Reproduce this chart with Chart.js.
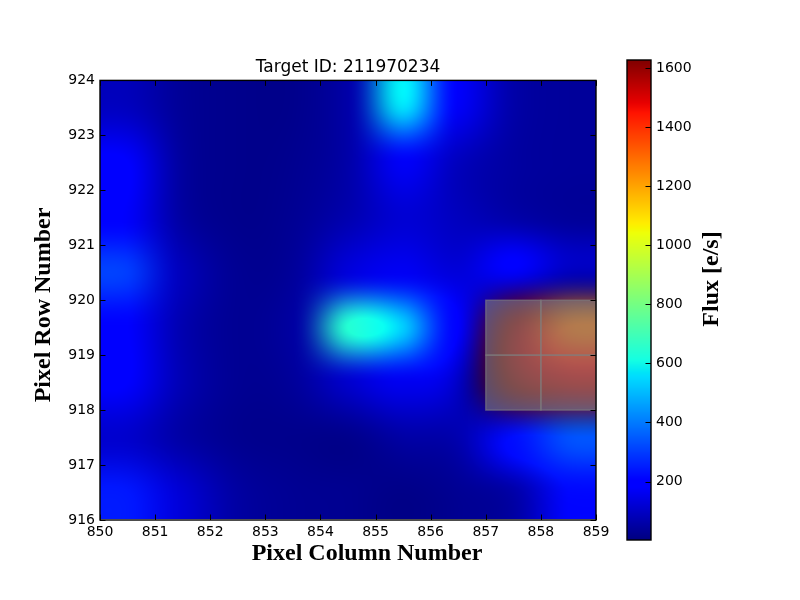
<!DOCTYPE html>
<html>
<head>
<meta charset="utf-8">
<title>Target ID: 211970234</title>
<script src="https://cdn.jsdelivr.net/npm/chart.js@4/dist/chart.umd.min.js"></script>
<style>
  html, body { margin: 0; padding: 0; background: #fff; }
  canvas { position: absolute; left: 0; top: 0; }
</style>
</head>
<body>
<canvas id="mapa" width="800" height="600"></canvas>
<canvas id="barra" width="800" height="600"></canvas>
<script>
const titulo = "Target ID: 211970234";
const rotuloX = "Pixel Column Number";
const rotuloY = "Pixel Row Number";
const rotuloBarra = "Flux [e/s]";

const colunas = [850, 851, 852, 853, 854, 855, 856, 857, 858];
const linhas = [916, 917, 918, 919, 920, 921, 922, 923];

// flux per pixel, one list per row, from row 916 upwards
const linha916 = [240, 120, 50, 30, 25, 15, 30, 60, 215];
const linha917 = [110, 55, 25, 20, 20, 55, 70, 225, 330];
const linha918 = [190, 75, 30, 40, 110, 160, 100, 1625, 1530];
const linha919 = [190, 70, 30, 50, 640, 530, 190, 1605, 1300];
const linha920 = [300, 85, 30, 40, 130, 165, 130, 170, 90];
const linha921 = [175, 50, 20, 30, 70, 120, 90, 60, 40];
const linha922 = [190, 45, 20, 25, 60, 170, 90, 50, 40];
const linha923 = [90, 35, 20, 20, 60, 560, 170, 60, 40];
const fluxo = [linha916, linha917, linha918, linha919, linha920, linha921, linha922, linha923];

const fluxoMin = 2;
const fluxoMax = 1627;
const ticksX = [850, 851, 852, 853, 854, 855, 856, 857, 858, 859];
const ticksY = [916, 917, 918, 919, 920, 921, 922, 923, 924];
const ticksBarra = [200, 400, 600, 800, 1000, 1200, 1400, 1600];

// pixels of the optimal aperture (column, row)
const aberturaColunas = [857, 858, 857, 858];
const aberturaLinhas = [918, 918, 919, 919];

function trecho(v, pts) {
  for (let i = 1; i < pts.length; i++) {
    if (v <= pts[i][0]) {
      const t = (v - pts[i - 1][0]) / (pts[i][0] - pts[i - 1][0]);
      return pts[i - 1][1] + t * (pts[i][1] - pts[i - 1][1]);
    }
  }
  return pts[pts.length - 1][1];
}

function jet(valor) {
  const v = Math.min(1, Math.max(0, (valor - fluxoMin) / (fluxoMax - fluxoMin)));
  return [
    255 * trecho(v, [[0, 0], [0.35, 0], [0.66, 1], [0.89, 1], [1, 0.5]]),
    255 * trecho(v, [[0, 0], [0.125, 0], [0.375, 1], [0.64, 1], [0.91, 0], [1, 0]]),
    255 * trecho(v, [[0, 0.5], [0.11, 1], [0.34, 1], [0.65, 0], [1, 0]]),
  ];
}

function kernel(t) {
  const t2 = t * t;
  const t3 = t2 * t;
  return [
    -0.5 * t3 + t2 - 0.5 * t,
    1.5 * t3 - 2.5 * t2 + 1,
    -1.5 * t3 + 2 * t2 + 0.5 * t,
    0.5 * t3 - 0.5 * t2,
  ];
}

// smoothing is done on a power of each colour channel,
// it gives the narrow peaks and the darker seams seen around the aperture
const potencia = 1.35;
const cores = fluxo.map((linha) => linha.map((f) => jet(f).map((c) => Math.pow(c, 1 / potencia))));

function corEm(col, lin) {
  const u = col - colunas[0] - 0.5;
  const v = lin - linhas[0] - 0.5;
  const iu = Math.floor(u);
  const iv = Math.floor(v);
  const pu = kernel(u - iu);
  const pv = kernel(v - iv);
  const saida = [0, 0, 0];
  for (let j = 0; j < 4; j++) {
    const l = Math.min(linhas.length - 1, Math.max(0, iv - 1 + j));
    for (let i = 0; i < 4; i++) {
      const c = Math.min(colunas.length - 1, Math.max(0, iu - 1 + i));
      const p = pu[i] * pv[j];
      saida[0] += p * cores[l][c][0];
      saida[1] += p * cores[l][c][1];
      saida[2] += p * cores[l][c][2];
    }
  }
  return saida.map((s) => (s > 0 ? Math.pow(s, potencia) : 0));
}

function marcasDentro(ctx, area, escalaX, escalaY, valoresX, valoresY) {
  const tam = 5.5;
  ctx.save();
  ctx.strokeStyle = "#000";
  ctx.lineWidth = 1;
  ctx.beginPath();
  valoresX.forEach((v) => {
    const x = Math.round(escalaX.getPixelForValue(v)) + 0.5;
    ctx.moveTo(x, area.bottom);
    ctx.lineTo(x, area.bottom - tam);
    ctx.moveTo(x, area.top);
    ctx.lineTo(x, area.top + tam);
  });
  valoresY.forEach((v) => {
    const y = Math.round(escalaY.getPixelForValue(v)) + 0.5;
    ctx.moveTo(area.right, y);
    ctx.lineTo(area.right - tam, y);
    ctx.moveTo(area.left, y);
    ctx.lineTo(area.left + tam, y);
  });
  ctx.stroke();
  ctx.lineWidth = 1.4;
  ctx.strokeRect(area.left, area.top, area.right - area.left, area.bottom - area.top);
  ctx.restore();
}

function textoGirado(ctx, texto, x, y) {
  ctx.save();
  ctx.translate(x, y);
  ctx.rotate(-Math.PI / 2);
  ctx.fillText(texto, 0, 0);
  ctx.restore();
}

const fonteRotulo = "bold 24px 'Liberation Serif'";

const pluginMapa = {
  id: "pluginMapa",
  beforeDatasetsDraw(chart) {
    const { ctx, chartArea: area } = chart;
    const { x: escalaX, y: escalaY } = chart.scales;
    const larg = area.right - area.left;
    const alt = area.bottom - area.top;
    const img = ctx.createImageData(larg, alt);
    for (let py = 0; py < alt; py++) {
      const lin = escalaY.getValueForPixel(area.top + py + 0.5);
      for (let px = 0; px < larg; px++) {
        const col = escalaX.getValueForPixel(area.left + px + 0.5);
        const c = corEm(col, lin);
        const k = (py * larg + px) * 4;
        img.data[k] = c[0];
        img.data[k + 1] = c[1];
        img.data[k + 2] = c[2];
        img.data[k + 3] = 255;
      }
    }
    ctx.putImageData(img, area.left, area.top);

    ctx.save();
    ctx.fillStyle = "rgba(128,128,128,0.6)";
    ctx.strokeStyle = "rgba(128,128,128,0.6)";
    ctx.lineWidth = 1.4;
    aberturaColunas.forEach((c, i) => {
      const x0 = escalaX.getPixelForValue(c);
      const x1 = escalaX.getPixelForValue(c + 1);
      const y0 = escalaY.getPixelForValue(aberturaLinhas[i] + 1);
      const y1 = escalaY.getPixelForValue(aberturaLinhas[i]);
      ctx.fillRect(x0, y0, x1 - x0, y1 - y0);
      ctx.strokeRect(x0, y0, x1 - x0, y1 - y0);
    });
    ctx.restore();

    marcasDentro(ctx, area, escalaX, escalaY, ticksX, ticksY);
  },
  afterDraw(chart) {
    const { ctx } = chart;
    ctx.save();
    ctx.fillStyle = "#000";
    ctx.font = fonteRotulo;
    ctx.textAlign = "center";
    ctx.textBaseline = "middle";
    ctx.fillText(rotuloX, 367, 554);
    textoGirado(ctx, rotuloY, 44, 305);
    ctx.restore();
  },
};

const pluginBarra = {
  id: "pluginBarra",
  beforeDatasetsDraw(chart) {
    const { ctx, chartArea: area } = chart;
    const escala = chart.scales.y;
    for (let py = area.top; py < area.bottom; py++) {
      const c = jet(escala.getValueForPixel(py + 0.5));
      ctx.fillStyle = "rgb(" + c.map(Math.round).join(",") + ")";
      ctx.fillRect(area.left, py, area.right - area.left, 1);
    }
    const tam = 5.5;
    ctx.save();
    ctx.strokeStyle = "#000";
    ctx.lineWidth = 1;
    ctx.beginPath();
    ticksBarra.forEach((v) => {
      const y = Math.round(escala.getPixelForValue(v)) + 0.5;
      ctx.moveTo(area.right, y);
      ctx.lineTo(area.right - tam, y);
    });
    ctx.stroke();
    ctx.lineWidth = 1.4;
    ctx.strokeRect(area.left, area.top, area.right - area.left, area.bottom - area.top);
    ctx.fillStyle = "#000";
    ctx.font = fonteRotulo;
    ctx.textAlign = "center";
    ctx.textBaseline = "middle";
    textoGirado(ctx, rotuloBarra, 712, 279);
    ctx.restore();
  },
};

const pontos = [];
linhas.forEach((l, j) => {
  colunas.forEach((c, i) => {
    pontos.push({ x: c + 0.5, y: l + 0.5, fluxo: fluxo[j][i] });
  });
});

const fonteTick = { family: "'DejaVu Sans'", size: 14 };

new Chart(document.getElementById("mapa"), {
  type: "scatter",
  data: {
    datasets: [{ label: "Flux", data: pontos, pointRadius: 0, pointHoverRadius: 0 }],
  },
  options: {
    responsive: false,
    animation: false,
    events: [],
    layout: { padding: { left: 30, right: 204, top: 0, bottom: 35 } },
    scales: {
      x: {
        type: "linear",
        min: 850,
        max: 859,
        afterBuildTicks: (s) => { s.ticks = ticksX.map((v) => ({ value: v })); },
        afterFit: (s) => { s.height = 45; },
        grid: { display: false, drawTicks: false },
        border: { display: false },
        ticks: { font: fonteTick, color: "#000", padding: 4, autoSkip: false, maxRotation: 0, callback: (v) => String(v) },
      },
      y: {
        type: "linear",
        min: 916,
        max: 924,
        afterBuildTicks: (s) => { s.ticks = ticksY.map((v) => ({ value: v })); },
        afterFit: (s) => { s.width = 70; },
        grid: { display: false, drawTicks: false },
        border: { display: false },
        ticks: { font: fonteTick, color: "#000", padding: 5, autoSkip: false, callback: (v) => String(v) },
      },
    },
    plugins: {
      legend: { display: false },
      tooltip: { enabled: false },
      title: {
        display: true,
        text: titulo,
        fullSize: false,
        color: "#000",
        font: { family: "'DejaVu Sans'", size: 17, weight: "normal" },
        padding: { top: 57, bottom: 3 },
      },
    },
  },
  plugins: [pluginMapa],
});

new Chart(document.getElementById("barra"), {
  type: "scatter",
  data: { datasets: [{ label: "Flux", data: [], pointRadius: 0 }] },
  options: {
    responsive: false,
    animation: false,
    events: [],
    layout: { padding: { left: 627, right: 99, top: 60, bottom: 60 } },
    scales: {
      x: { display: false, min: 0, max: 1 },
      y: {
        type: "linear",
        position: "right",
        min: fluxoMin,
        max: fluxoMax,
        afterBuildTicks: (s) => { s.ticks = ticksBarra.map((v) => ({ value: v })); },
        afterFit: (s) => { s.width = 50; },
        grid: { display: false, drawTicks: false },
        border: { display: false },
        ticks: { font: fonteTick, color: "#000", padding: 5, autoSkip: false, callback: (v) => String(v) },
      },
    },
    plugins: {
      legend: { display: false },
      tooltip: { enabled: false },
    },
  },
  plugins: [pluginBarra],
});
</script>
</body>
</html>
